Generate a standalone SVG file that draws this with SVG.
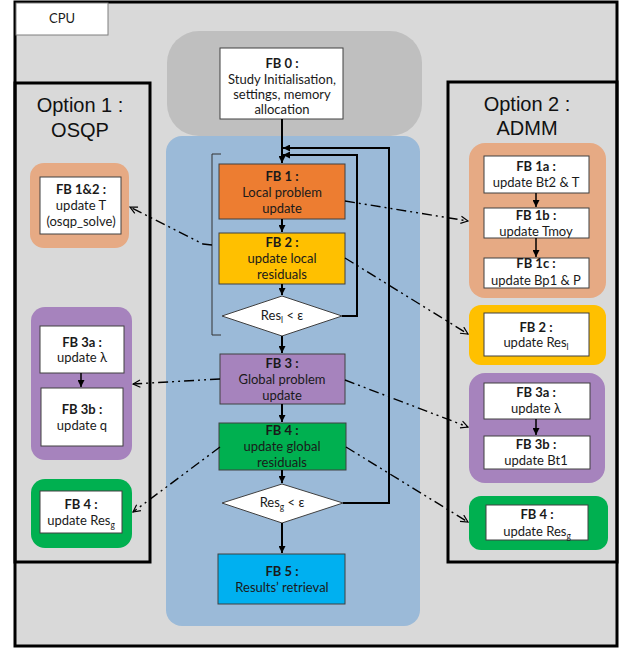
<svg xmlns="http://www.w3.org/2000/svg" width="627" height="650" viewBox="0 0 627 650">
<defs>
<style>
.t{font-family:Lato,"Open Sans","Liberation Sans",sans-serif;font-size:13px;fill:#1a1a1a;text-anchor:middle}
.b{font-weight:bold}
.h{font-family:"Liberation Sans",Arial,sans-serif;font-size:20px;fill:#111;text-anchor:middle}
.box{stroke:#404040;stroke-width:1}
.wb{fill:#fff;stroke:#404040;stroke-width:1}
.opt{fill:none;stroke:#000;stroke-width:3}
.flow{fill:none;stroke:#000;stroke-width:2}
.dd{fill:none;stroke:#000;stroke-width:1.4;stroke-dasharray:10 4 2 4 2 4}
.sub{font-size:8.5px}
</style>
<marker id="ar" viewBox="0 0 10 10" refX="10" refY="5" markerWidth="7" markerHeight="7" markerUnits="userSpaceOnUse" orient="auto">
<path d="M0,0 L10,5 L0,10 z" fill="#000"/>
</marker>
<marker id="oa" viewBox="0 0 10 10" refX="9" refY="5" markerWidth="9" markerHeight="9" markerUnits="userSpaceOnUse" orient="auto">
<path d="M1,1 L9,5 L1,9" fill="none" stroke="#000" stroke-width="1.3"/>
</marker>
</defs>

<g id="cpu">
<rect x="15" y="2" width="602" height="644" fill="#D9D9D9" stroke="#000" stroke-width="3"/>
<rect x="16" y="3" width="92" height="32" fill="#fff" stroke="#7f7f7f" stroke-width="1"/>
<text class="t" x="62" y="23">CPU</text>
</g>

<g id="init-region">
<rect x="167" y="31" width="255" height="105" rx="32" fill="#BFBFBF"/>
</g>
<g id="loop-region">
<rect x="166" y="136" width="254" height="490" rx="16" fill="#9BBAD8"/>
</g>

<g id="option1">
<rect class="opt" x="15" y="83" width="135" height="479"/>
<text class="h" x="80" y="112">Option 1 :</text>
<text class="h" x="80" y="137">OSQP</text>
</g>
<g id="option2">
<rect class="opt" x="448" y="82" width="169" height="480"/>
<text class="h" x="527" y="111">Option 2 :</text>
<text class="h" x="527" y="135">ADMM</text>
</g>

<g id="fb0">
<rect class="wb" x="220" y="48" width="123" height="71"/>
<text class="t b" x="282" y="68">FB 0 :</text>
<text class="t" x="282" y="84">Study Initialisation,</text>
<text class="t" x="282" y="99">settings, memory</text>
<text class="t" x="282" y="114">allocation</text>
</g>

<g id="fb1">
<rect class="box" x="219" y="164" width="126" height="55" fill="#ED7D31"/>
<text class="t b" x="282" y="181">FB 1 :</text>
<text class="t" x="282" y="197">Local problem</text>
<text class="t" x="282" y="213">update</text>
</g>
<g id="fb2">
<rect class="box" x="219" y="233" width="126" height="51" fill="#FFC000"/>
<text class="t b" x="282" y="247">FB 2 :</text>
<text class="t" x="282" y="263">update local</text>
<text class="t" x="282" y="279">residuals</text>
</g>
<g id="dec-local">
<path d="M282,296 L342,316 L282,336 L222,316 z" fill="#fff" stroke="#404040" stroke-width="1"/>
<text class="t" x="282" y="320">Res<tspan class="sub" dy="3">l</tspan><tspan dy="-3"> &lt; ε</tspan></text>
</g>
<g id="fb3">
<rect class="box" x="220" y="354" width="125" height="50" fill="#A683BD"/>
<text class="t b" x="282" y="368">FB 3 :</text>
<text class="t" x="282" y="384">Global problem</text>
<text class="t" x="282" y="400">update</text>
</g>
<g id="fb4">
<rect class="box" x="219" y="423" width="127" height="47" fill="#00B050"/>
<text class="t b" x="282" y="435">FB 4 :</text>
<text class="t" x="282" y="451">update global</text>
<text class="t" x="282" y="467">residuals</text>
</g>
<g id="dec-global">
<path d="M282,484 L343,503 L282,523 L222,503 z" fill="#fff" stroke="#404040" stroke-width="1"/>
<text class="t" x="282" y="507">Res<tspan class="sub" dy="3">g</tspan><tspan dy="-3"> &lt; ε</tspan></text>
</g>
<g id="fb5">
<rect class="box" x="218" y="554" width="127" height="50" fill="#00B0F0"/>
<text class="t b" x="282" y="576">FB 5 :</text>
<text class="t" x="282" y="592">Results’ retrieval</text>
</g>

<g id="bracket">
<path d="M221,154 H212 V335 H221" fill="none" stroke="#333" stroke-width="1"/>
</g>

<g id="opt1-fb12">
<rect x="30" y="163" width="99" height="85" rx="14" fill="#E6AA84"/>
<rect class="wb" x="40" y="177" width="81" height="57"/>
<text class="t b" x="81" y="194">FB 1&amp;2 :</text>
<text class="t" x="81" y="210">update T</text>
<text class="t" x="81" y="226">(osqp_solve)</text>
</g>
<g id="opt1-fb3">
<rect x="31" y="307" width="101" height="153" rx="14" fill="#A683BD"/>
<rect class="wb" x="40" y="326" width="84" height="47"/>
<text class="t b" x="82" y="347">FB 3a :</text>
<text class="t" x="82" y="362">update λ</text>
<rect class="wb" x="41" y="388" width="82" height="58"/>
<text class="t b" x="82" y="414">FB 3b :</text>
<text class="t" x="82" y="430">update q</text>
</g>
<g id="opt1-fb4">
<rect x="31" y="479" width="101" height="69" rx="14" fill="#00B050"/>
<rect class="wb" x="40" y="491" width="82" height="42"/>
<text class="t b" x="81" y="509">FB 4 :</text>
<text class="t" x="81" y="525">update Res<tspan class="sub" dy="3">g</tspan></text>
</g>

<g id="opt2-fb1">
<rect x="469" y="143" width="137" height="155" rx="16" fill="#E6AA84"/>
<rect class="wb" x="484" y="156" width="105" height="37"/>
<text class="t b" x="536" y="171">FB 1a :</text>
<text class="t" x="536" y="187">update Bt2 &amp; T</text>
<rect class="wb" x="484" y="208" width="105" height="30"/>
<text class="t b" x="536" y="220">FB 1b :</text>
<text class="t" x="536" y="236">update Tmoy</text>
<rect class="wb" x="484" y="258" width="105" height="30"/>
<text class="t b" x="536" y="268">FB 1c :</text>
<text class="t" x="536" y="285">update Bp1 &amp; P</text>
</g>
<g id="opt2-fb2">
<rect x="469" y="305" width="137" height="60" rx="12" fill="#FFC000"/>
<rect class="wb" x="484" y="313" width="105" height="43"/>
<text class="t b" x="536" y="332">FB 2 :</text>
<text class="t" x="536" y="347">update Res<tspan class="sub" dy="3">l</tspan></text>
</g>
<g id="opt2-fb3">
<rect x="469" y="373" width="136" height="110" rx="16" fill="#A683BD"/>
<rect class="wb" x="484" y="383" width="106" height="36"/>
<text class="t b" x="536" y="397">FB 3a :</text>
<text class="t" x="536" y="413">update λ</text>
<rect class="wb" x="484" y="436" width="106" height="33"/>
<text class="t b" x="536" y="449">FB 3b :</text>
<text class="t" x="536" y="465">update Bt1</text>
</g>
<g id="opt2-fb4">
<rect x="469" y="496" width="139" height="54" rx="12" fill="#00B050"/>
<rect class="wb" x="486" y="505" width="102" height="35"/>
<text class="t b" x="537" y="519">FB 4 :</text>
<text class="t" x="537" y="536">update Res<tspan class="sub" dy="3">g</tspan></text>
</g>

<g id="connectors">
<path class="flow" d="M282,119 V163" marker-end="url(#ar)"/>
<path class="flow" d="M282,219 V232" marker-end="url(#ar)"/>
<path class="flow" d="M282,284 V295" marker-end="url(#ar)"/>
<path class="flow" d="M282,336 V353" marker-end="url(#ar)"/>
<path class="flow" d="M282,404 V422" marker-end="url(#ar)"/>
<path class="flow" d="M282,470 V483" marker-end="url(#ar)"/>
<path class="flow" d="M282,523 V553" marker-end="url(#ar)"/>
<path class="flow" d="M342,316 H357 V155 H283" marker-end="url(#ar)"/>
<path class="flow" d="M343,503 H389 V148 H283" marker-end="url(#ar)"/>
<path d="M536,193 V207" stroke="#000" stroke-width="1.5" marker-end="url(#ar)"/>
<path d="M536,238 V257" stroke="#000" stroke-width="1.5" marker-end="url(#ar)"/>
<path d="M536,419 V435" stroke="#000" stroke-width="1.5" marker-end="url(#ar)"/>
<path d="M81,373 V387" stroke="#000" stroke-width="1.5" marker-end="url(#ar)"/>
<path class="dd" d="M212,245 L203,244 L130,207" marker-end="url(#oa)"/>
<path class="dd" d="M345,201 L468,221" marker-end="url(#oa)"/>
<path class="dd" d="M345,258 L468,334" marker-end="url(#oa)"/>
<path class="dd" d="M220,379 L133,384" marker-end="url(#oa)"/>
<path class="dd" d="M345,380 L468,427" marker-end="url(#oa)"/>
<path class="dd" d="M220,447 L133,512" marker-end="url(#oa)"/>
<path class="dd" d="M346,447 L468,522" marker-end="url(#oa)"/>
</g>
</svg>
